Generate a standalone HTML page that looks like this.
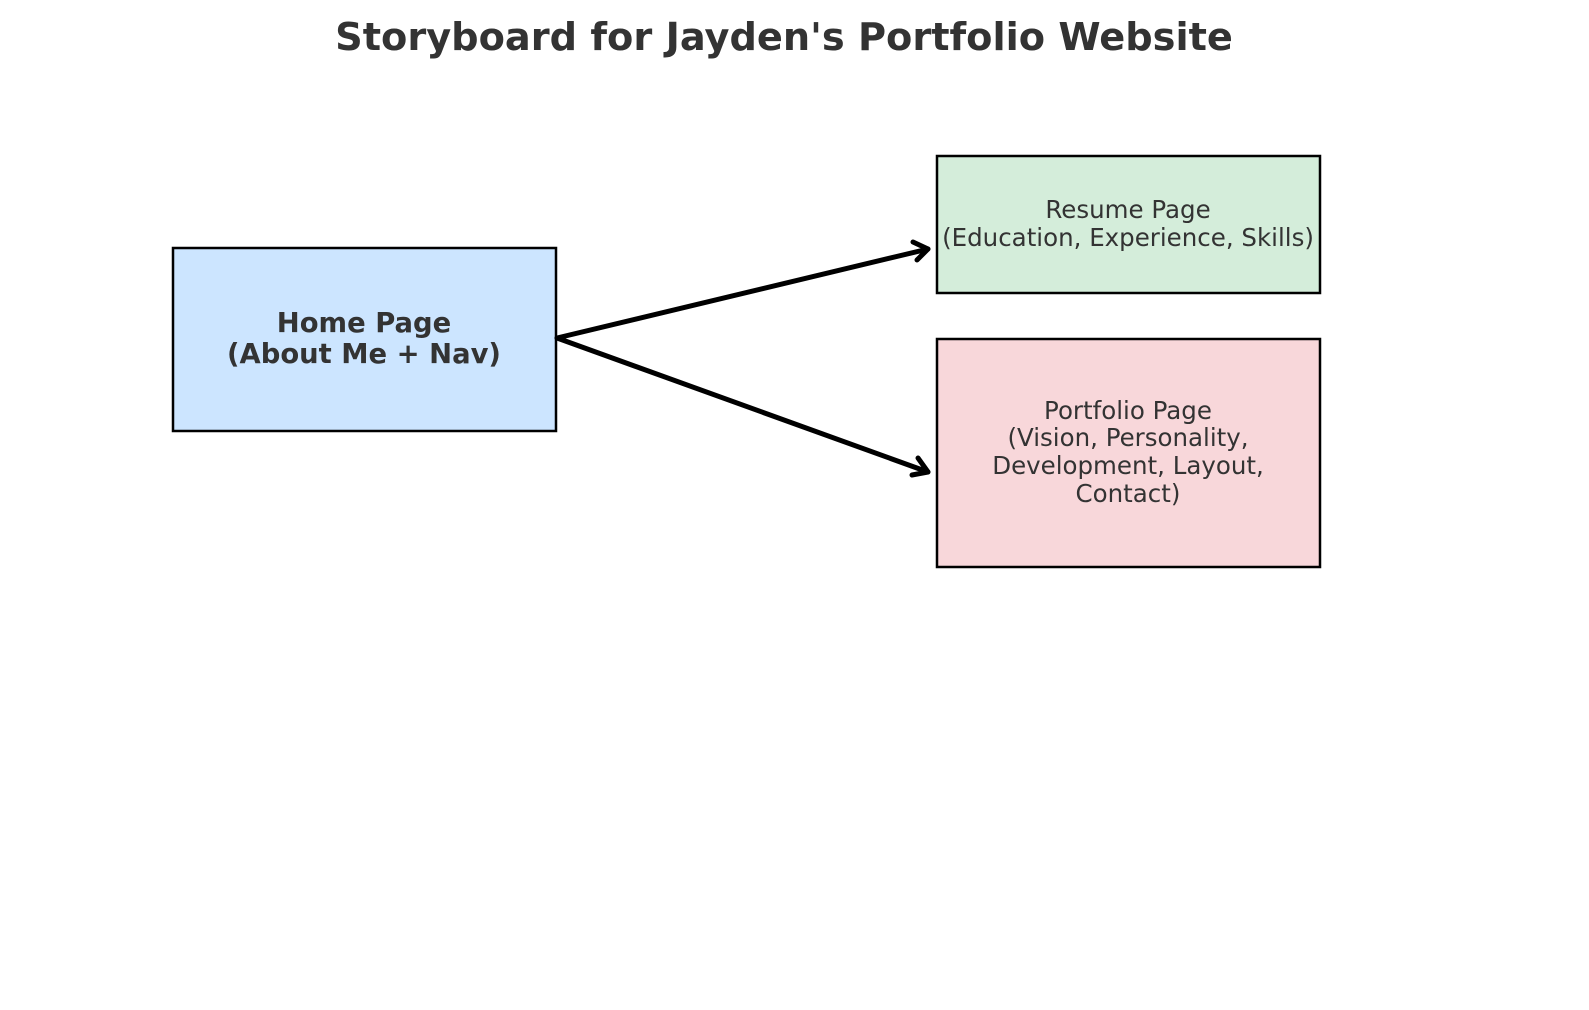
<!DOCTYPE html>
<html><head><meta charset="utf-8"><style>
html,body{margin:0;padding:0;background:#fff;}
svg{display:block;}
text{font-family:"DejaVu Sans","Liberation Sans",sans-serif;fill:#333;}
</style></head><body>
<svg width="1589" height="1010" viewBox="0 0 1589 1010" xmlns="http://www.w3.org/2000/svg">
<text x="784" y="50" text-anchor="middle" font-size="38.3" font-weight="bold">Storyboard for Jayden's Portfolio Website</text>
<rect x="173" y="248" width="383" height="183" fill="#cce5ff" stroke="#000" stroke-width="2.5"/>
<text x="364" y="332" text-anchor="middle" font-size="27.4" font-weight="bold">Home Page</text>
<text x="364" y="363" text-anchor="middle" font-size="27.4" font-weight="bold">(About Me + Nav)</text>
<rect x="937" y="156" width="383" height="137" fill="#d4edda" stroke="#000" stroke-width="2.5"/>
<text x="1128" y="218" text-anchor="middle" font-size="24.5">Resume Page</text>
<text x="1128" y="246" text-anchor="middle" font-size="24.5">(Education, Experience, Skills)</text>
<rect x="937" y="339" width="383" height="228" fill="#f8d7da" stroke="#000" stroke-width="2.5"/>
<text x="1128" y="419" text-anchor="middle" font-size="24.5">Portfolio Page</text>
<text x="1128" y="446" text-anchor="middle" font-size="24.5">(Vision, Personality,</text>
<text x="1128" y="474" text-anchor="middle" font-size="24.5">Development, Layout,</text>
<text x="1128" y="502" text-anchor="middle" font-size="24.5">Contact)</text>
<g stroke="#000" stroke-width="5" fill="none" stroke-linecap="round" stroke-linejoin="round">
<line x1="557" y1="338" x2="928" y2="249"/>
<polyline points="913,242 928,249 917,260"/>
<line x1="557" y1="338" x2="928" y2="472"/>
<polyline points="918,458 928,472 912,475"/>
</g>
</svg>
</body></html>
